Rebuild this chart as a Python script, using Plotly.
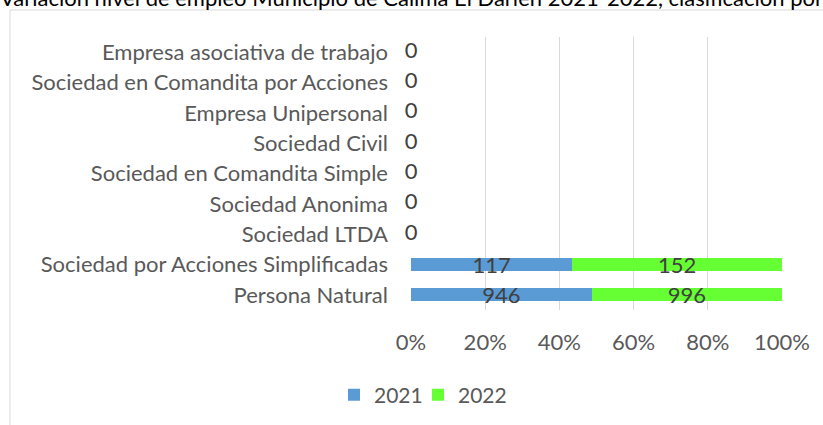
import plotly.graph_objects as go

title_text = "Variación nivel de empleo Municipio de Calima El Darién 2021-2022, clasificación por"
categories = [
    "Empresa asociativa de trabajo",
    "Sociedad en Comandita por Acciones",
    "Empresa Unipersonal",
    "Sociedad Civil",
    "Sociedad en Comandita Simple",
    "Sociedad Anonima",
    "Sociedad LTDA",
    "Sociedad por Acciones Simplificadas",
    "Persona Natural",
]
values_2021 = [0, 0, 0, 0, 0, 0, 0, 117, 946]
values_2022 = [0, 0, 0, 0, 0, 0, 0, 152, 996]
x_ticks = [0, 20, 40, 60, 80, 100]
x_tick_labels = ["0%", "20%", "40%", "60%", "80%", "100%"]

FONT = "Lato"
FS = 22
W, H = 823, 425
ML, MR, MT, MB = 411, 41, 37, 115
PW, PH = W - ML - MR, H - MT - MB

fig = go.Figure()
fig.add_trace(go.Bar(
    name="2021", y=categories, x=values_2021, orientation="h",
    marker=dict(color="#5B9BD5", line=dict(width=0)),
    text=[str(v) for v in values_2021], textposition="inside",
    insidetextanchor="middle", textangle=0, constraintext="none",
    textfont=dict(family=FONT, size=FS, color="#404040"),
    legend="legend",
))
fig.add_trace(go.Bar(
    name="2022", y=categories, x=values_2022, orientation="h",
    marker=dict(color="#66FF33", line=dict(width=0)),
    text=[str(v) for v in values_2022], textposition="inside",
    insidetextanchor="middle", textangle=0, constraintext="none",
    textfont=dict(family=FONT, size=FS, color="#404040"),
    legend="legend2",
))

# labels for categories with zero totals (shown at 0%)
zero_cats = [c for c, a, b in zip(categories, values_2021, values_2022) if a + b == 0]
zero_txt = [str(a + b) for c, a, b in zip(categories, values_2021, values_2022) if a + b == 0]
fig.add_trace(go.Scatter(
    y=zero_cats, x=[0] * len(zero_cats), mode="text", text=zero_txt,
    textposition="middle center", showlegend=False, cliponaxis=False,
    textfont=dict(family=FONT, size=FS, color="#404040"), hoverinfo="skip",
))

def px_x(p):
    return (p - ML) / PW

def px_y(p):
    return (H - MB - p) / PH

legend_common = dict(orientation="h", xref="container", yref="container",
                     y=1 - 395 / H, xanchor="left", yanchor="middle",
                     font=dict(family=FONT, size=21, color="#595959"),
                     itemwidth=30, bgcolor="rgba(0,0,0,0)", borderwidth=0)

fig.update_layout(
    width=W, height=H,
    margin=dict(l=ML, r=MR, t=MT, b=MB),
    barmode="stack", barnorm="percent", bargap=0.57,
    plot_bgcolor="white", paper_bgcolor="white",
    font=dict(family=FONT, size=FS, color="#595959"),
    showlegend=True,
    legend=dict(x=334 / W, **legend_common),
    legend2=dict(x=418 / W, **legend_common),
    xaxis=dict(range=[0, 100], tickmode="array", tickvals=x_ticks,
               ticktext=x_tick_labels,
               showgrid=True, gridcolor="#D9D9D9", gridwidth=1,
               zeroline=False, showline=False, ticks="",
               ticklabelstandoff=17,
               tickfont=dict(family=FONT, size=FS, color="#595959")),
    yaxis=dict(autorange="reversed", showgrid=False, zeroline=False,
               showline=False, ticks="", ticklabelstandoff=22,
               tickfont=dict(family=FONT, size=FS, color="#595959")),
    shapes=[dict(type="rect", xref="paper", yref="paper",
                 x0=px_x(10), x1=px_x(W + 20), y0=px_y(H + 20), y1=px_y(10),
                 line=dict(color="#D9D9D9", width=1), fillcolor="rgba(0,0,0,0)",
                 layer="below")],
    annotations=[dict(text=title_text, xref="paper", yref="paper",
                      x=px_x(W / 2), y=px_y(-3), xanchor="center", yanchor="middle",
                      showarrow=False,
                      font=dict(family=FONT, size=FS, color="#000000"))],
)

fig.write_html("out.html", config={"displayModeBar": False},
               post_script="document.body.style.margin='0';document.body.style.padding='0';")
